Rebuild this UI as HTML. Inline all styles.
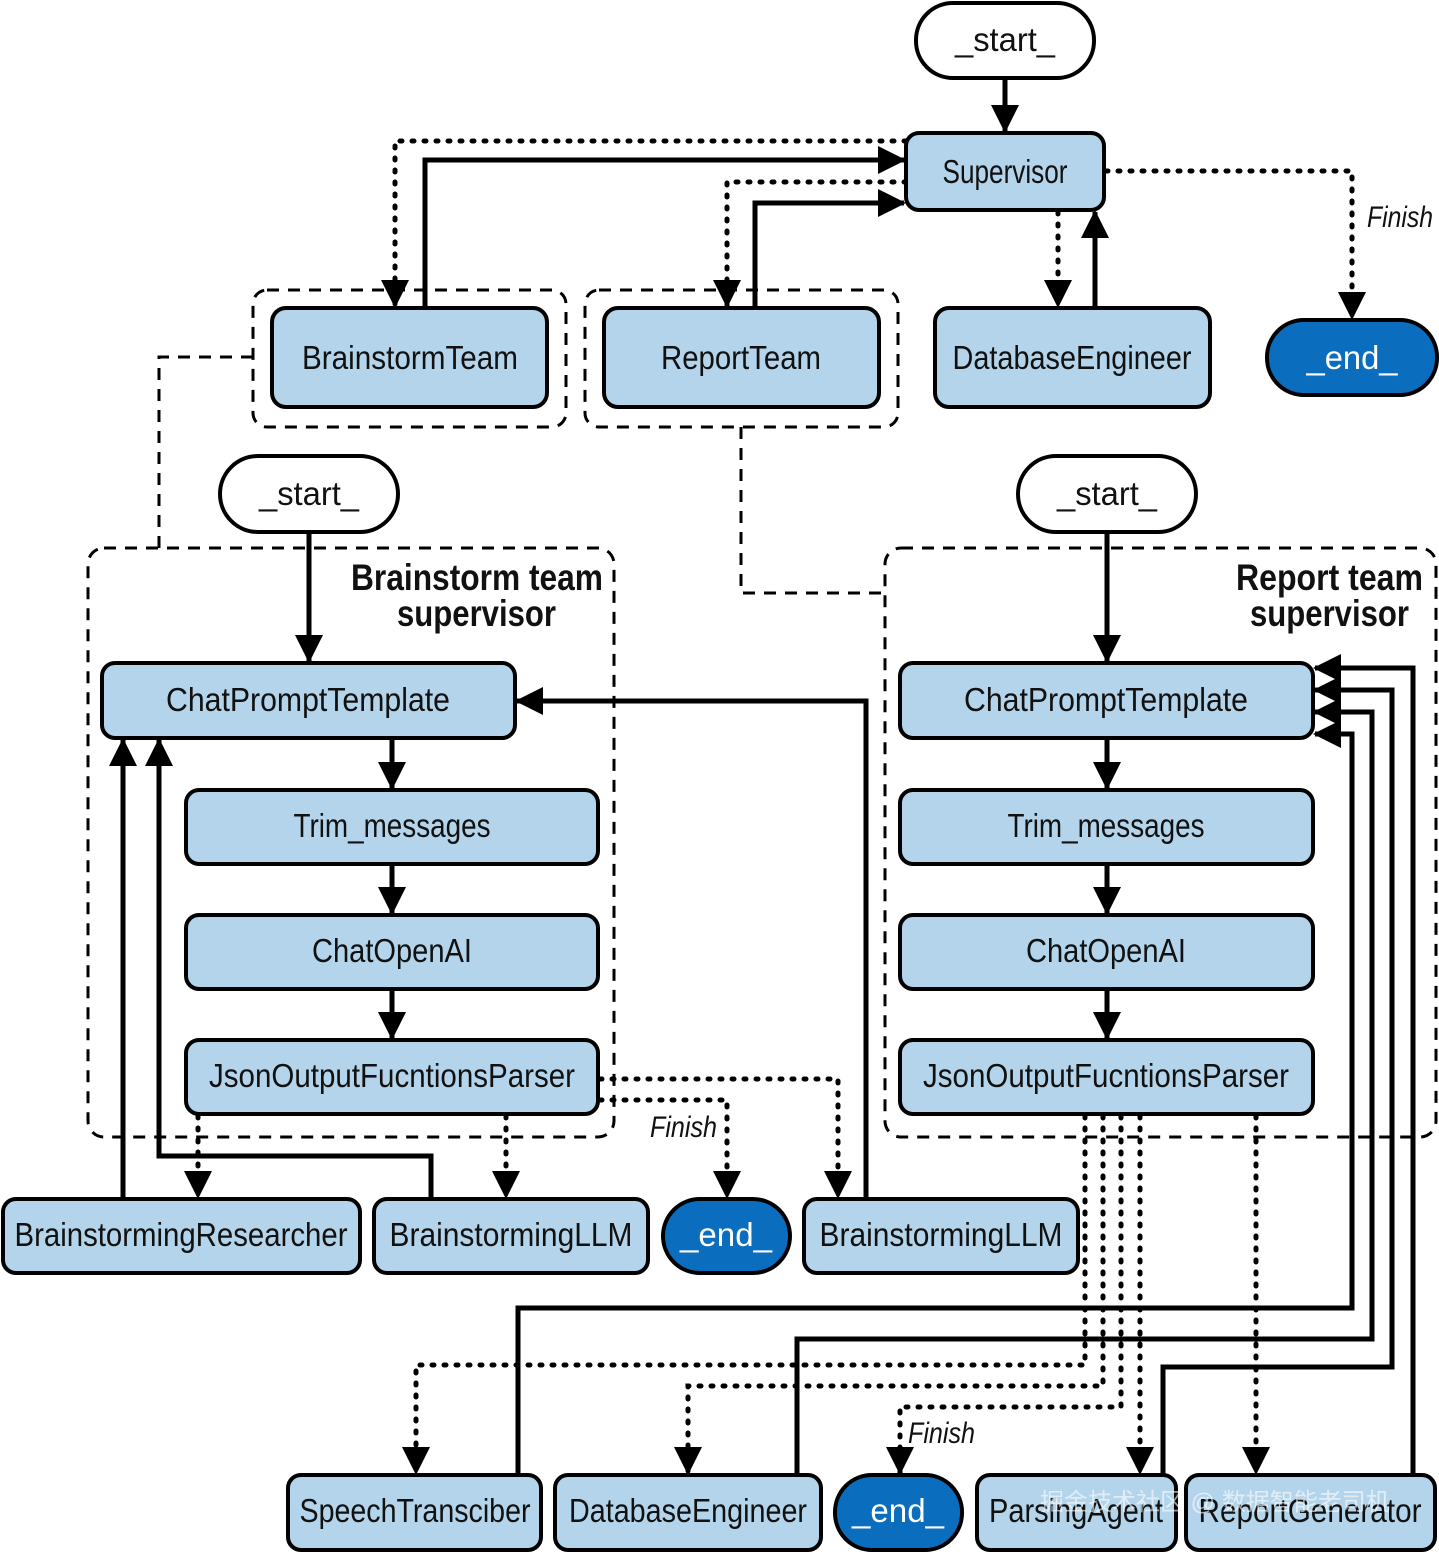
<!DOCTYPE html>
<html><head><meta charset="utf-8"><style>
html,body{margin:0;padding:0;background:#fff}
svg{display:block}
text{font-family:"Liberation Sans",sans-serif}
.n{fill:#b3d4ea;stroke:#000;stroke-width:4}
.e{fill:#0b6dbd;stroke:#000;stroke-width:4}
.s{fill:#fff;stroke:#000;stroke-width:4}
.t{font-size:33px;text-anchor:middle;fill:#111}
.tw{font-size:33px;text-anchor:middle;fill:#fff}
.L{fill:none;stroke:#000;stroke-width:5}
.D{fill:none;stroke:#000;stroke-width:5;stroke-dasharray:2 10;stroke-linecap:round}
.G{fill:none;stroke:#000;stroke-width:3;stroke-dasharray:12 9}
.h{font-size:37px;font-weight:bold;text-anchor:end;fill:#111}
.f{font-size:30px;font-style:italic;fill:#111}
</style></head><body>
<svg width="1439" height="1552" viewBox="0 0 1439 1552" xmlns="http://www.w3.org/2000/svg">
<defs>
<marker id="a" markerWidth="28" markerHeight="28" refX="26" refY="14" orient="auto" markerUnits="userSpaceOnUse"><path d="M0,0 L28,14 L0,28z" fill="#000"/></marker>
</defs>

<!-- group boxes -->
<rect class="G" x="253" y="290" width="313" height="137" rx="14"/>
<rect class="G" x="585" y="290" width="313" height="137" rx="14"/>
<rect class="G" x="88" y="548" width="526" height="589" rx="16"/>
<rect class="G" x="885" y="548" width="551" height="589" rx="16"/>
<path class="G" d="M253,357 H159 V548"/>
<path class="G" d="M741,427 V593 H885"/>

<!-- top edges -->
<path class="L" d="M1005,78 V131" marker-end="url(#a)"/>
<path class="D" d="M906,141 H395 V306" marker-end="url(#a)"/>
<path class="L" d="M425,308 V160 H904" marker-end="url(#a)"/>
<path class="D" d="M906,182 H727 V306" marker-end="url(#a)"/>
<path class="L" d="M755,308 V203 H904" marker-end="url(#a)"/>
<path class="D" d="M1058,212 V306" marker-end="url(#a)"/>
<path class="L" d="M1095,308 V212" marker-end="url(#a)"/>
<path class="D" d="M1106,171 H1352 V318" marker-end="url(#a)"/>
<text class="f" x="1367" y="227" textLength="66" lengthAdjust="spacingAndGlyphs">Finish</text>

<!-- left internal -->
<path class="L" d="M309,532 V661" marker-end="url(#a)"/>
<path class="L" d="M392,738 V788" marker-end="url(#a)"/>
<path class="L" d="M392,864 V913" marker-end="url(#a)"/>
<path class="L" d="M392,989 V1038" marker-end="url(#a)"/>
<path class="D" d="M198,1116 V1197" marker-end="url(#a)"/>
<path class="D" d="M506,1116 V1197" marker-end="url(#a)"/>
<path class="D" d="M600,1079 H838 V1197" marker-end="url(#a)"/>
<path class="D" d="M600,1100 H727 V1197" marker-end="url(#a)"/>
<text class="f" x="650" y="1137" textLength="67" lengthAdjust="spacingAndGlyphs">Finish</text>
<path class="L" d="M123,1199 V740" marker-end="url(#a)"/>
<path class="L" d="M431,1199 V1156 H159 V740" marker-end="url(#a)"/>
<path class="L" d="M866,1199 V701 H517" marker-end="url(#a)"/>

<!-- right internal -->
<path class="L" d="M1107,532 V661" marker-end="url(#a)"/>
<path class="L" d="M1107,738 V788" marker-end="url(#a)"/>
<path class="L" d="M1107,864 V913" marker-end="url(#a)"/>
<path class="L" d="M1107,989 V1038" marker-end="url(#a)"/>
<path class="L" d="M518,1475 V1308 H1352 V734 H1315" marker-end="url(#a)"/>
<path class="L" d="M797,1475 V1339 H1372 V712 H1315" marker-end="url(#a)"/>
<path class="L" d="M1163,1475 V1367 H1392 V690 H1315" marker-end="url(#a)"/>
<path class="L" d="M1413,1475 V668 H1315" marker-end="url(#a)"/>
<path class="D" d="M1085,1116 V1365 H416 V1473" marker-end="url(#a)"/>
<path class="D" d="M1103,1116 V1386 H688 V1473" marker-end="url(#a)"/>
<path class="D" d="M1121,1116 V1407 H900 V1473" marker-end="url(#a)"/>
<path class="D" d="M1140,1116 V1473" marker-end="url(#a)"/>
<path class="D" d="M1256,1116 V1473" marker-end="url(#a)"/>
<text class="f" x="908" y="1443" textLength="67" lengthAdjust="spacingAndGlyphs">Finish</text>

<!-- titles -->
<text class="h" x="603" y="590" textLength="252" lengthAdjust="spacingAndGlyphs">Brainstorm team</text>
<text class="h" x="556" y="626" textLength="159" lengthAdjust="spacingAndGlyphs">supervisor</text>
<text class="h" x="1423" y="590" textLength="187" lengthAdjust="spacingAndGlyphs">Report team</text>
<text class="h" x="1409" y="626" textLength="159" lengthAdjust="spacingAndGlyphs">supervisor</text>

<!-- nodes -->
<rect class="s" x="916" y="3" width="178" height="75" rx="37"/>
<text class="t" x="1005" y="51" textLength="100" lengthAdjust="spacingAndGlyphs">_start_</text>
<rect class="n" x="906" y="133" width="198" height="77" rx="13"/>
<text class="t" x="1005" y="183" textLength="125" lengthAdjust="spacingAndGlyphs">Supervisor</text>
<rect class="n" x="272" y="308" width="275" height="99" rx="14"/>
<text class="t" x="410" y="369" textLength="216" lengthAdjust="spacingAndGlyphs">BrainstormTeam</text>
<rect class="n" x="604" y="308" width="275" height="99" rx="14"/>
<text class="t" x="741" y="369" textLength="160" lengthAdjust="spacingAndGlyphs">ReportTeam</text>
<rect class="n" x="935" y="308" width="275" height="99" rx="14"/>
<text class="t" x="1072" y="369" textLength="239" lengthAdjust="spacingAndGlyphs">DatabaseEngineer</text>
<rect class="e" x="1267" y="320" width="170" height="75" rx="37"/>
<text class="tw" x="1352" y="369" textLength="91" lengthAdjust="spacingAndGlyphs">_end_</text>

<rect class="s" x="220" y="456" width="178" height="76" rx="38"/>
<text class="t" x="309" y="505" textLength="100" lengthAdjust="spacingAndGlyphs">_start_</text>
<rect class="s" x="1018" y="456" width="178" height="76" rx="38"/>
<text class="t" x="1107" y="505" textLength="100" lengthAdjust="spacingAndGlyphs">_start_</text>

<rect class="n" x="102" y="663" width="413" height="75" rx="13"/>
<text class="t" x="308" y="711" textLength="284" lengthAdjust="spacingAndGlyphs">ChatPromptTemplate</text>
<rect class="n" x="186" y="790" width="412" height="74" rx="13"/>
<text class="t" x="392" y="837" textLength="197" lengthAdjust="spacingAndGlyphs">Trim_messages</text>
<rect class="n" x="186" y="915" width="412" height="74" rx="13"/>
<text class="t" x="392" y="962" textLength="160" lengthAdjust="spacingAndGlyphs">ChatOpenAI</text>
<rect class="n" x="186" y="1040" width="412" height="74" rx="13"/>
<text class="t" x="392" y="1087" textLength="366" lengthAdjust="spacingAndGlyphs">JsonOutputFucntionsParser</text>

<rect class="n" x="900" y="663" width="413" height="75" rx="13"/>
<text class="t" x="1106" y="711" textLength="284" lengthAdjust="spacingAndGlyphs">ChatPromptTemplate</text>
<rect class="n" x="900" y="790" width="413" height="74" rx="13"/>
<text class="t" x="1106" y="837" textLength="197" lengthAdjust="spacingAndGlyphs">Trim_messages</text>
<rect class="n" x="900" y="915" width="413" height="74" rx="13"/>
<text class="t" x="1106" y="962" textLength="160" lengthAdjust="spacingAndGlyphs">ChatOpenAI</text>
<rect class="n" x="900" y="1040" width="413" height="74" rx="13"/>
<text class="t" x="1106" y="1087" textLength="366" lengthAdjust="spacingAndGlyphs">JsonOutputFucntionsParser</text>

<rect class="n" x="3" y="1199" width="357" height="74" rx="13"/>
<text class="t" x="181" y="1246" textLength="333" lengthAdjust="spacingAndGlyphs">BrainstormingResearcher</text>
<rect class="n" x="374" y="1199" width="274" height="74" rx="13"/>
<text class="t" x="511" y="1246" textLength="243" lengthAdjust="spacingAndGlyphs">BrainstormingLLM</text>
<rect class="e" x="663" y="1199" width="127" height="74" rx="37"/>
<text class="tw" x="726" y="1246" textLength="92" lengthAdjust="spacingAndGlyphs">_end_</text>
<rect class="n" x="804" y="1199" width="274" height="74" rx="13"/>
<text class="t" x="941" y="1246" textLength="243" lengthAdjust="spacingAndGlyphs">BrainstormingLLM</text>

<rect class="n" x="288" y="1475" width="253" height="75" rx="13"/>
<text class="t" x="415" y="1522" textLength="231" lengthAdjust="spacingAndGlyphs">SpeechTransciber</text>
<rect class="n" x="555" y="1475" width="266" height="75" rx="13"/>
<text class="t" x="688" y="1522" textLength="238" lengthAdjust="spacingAndGlyphs">DatabaseEngineer</text>
<rect class="e" x="835" y="1475" width="127" height="75" rx="37"/>
<text class="tw" x="898" y="1522" textLength="92" lengthAdjust="spacingAndGlyphs">_end_</text>
<rect class="n" x="977" y="1475" width="199" height="75" rx="13"/>
<text class="t" x="1076" y="1522" textLength="174" lengthAdjust="spacingAndGlyphs">ParsingAgent</text>
<rect class="n" x="1186" y="1475" width="249" height="75" rx="13"/>
<text class="t" x="1310" y="1522" textLength="223" lengthAdjust="spacingAndGlyphs">ReportGenerator</text>

<text x="1040" y="1510" font-size="24" fill="#ffffff" fill-opacity="0.6" font-family="'Liberation Sans','Noto Sans CJK SC',sans-serif">掘金技术社区 @ 数据智能老司机</text>
</svg>
</body></html>
